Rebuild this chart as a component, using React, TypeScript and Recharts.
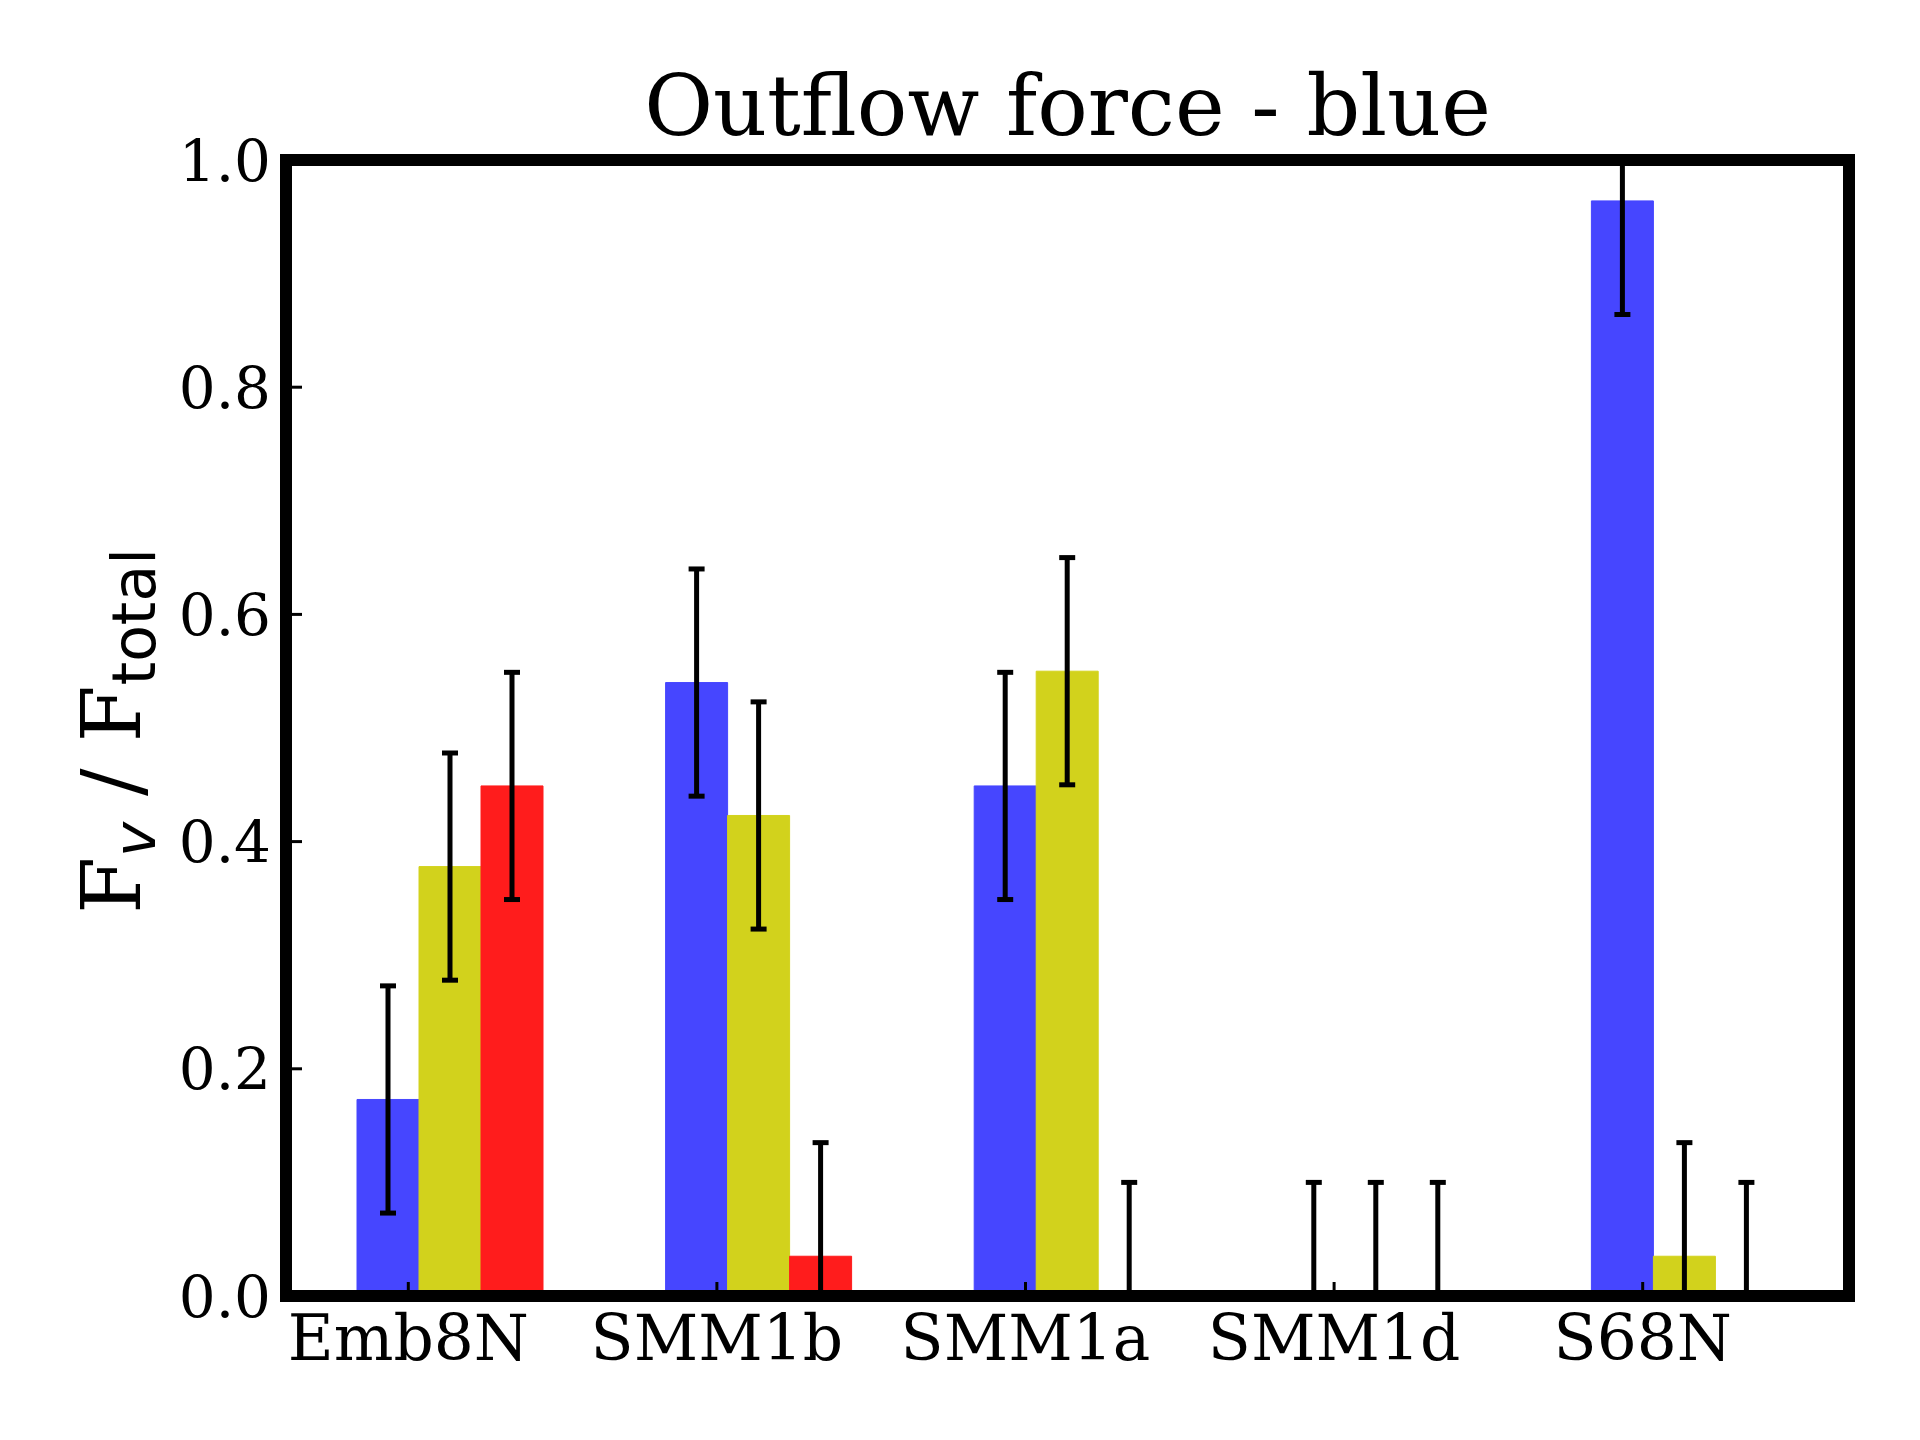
import React from 'react';
import { BarChart, Bar, XAxis, YAxis, ErrorBar } from 'recharts';

const categories = ['Emb8N', 'SMM1b', 'SMM1a', 'SMM1d', 'S68N'];
const blueValues = [0.173, 0.54, 0.449, 0, 0.964];
const yellowValues = [0.378, 0.423, 0.55, 0, 0.035];
const redValues = [0.449, 0.035, 0, 0, 0];
const blueErrors = [0.1, 0.1, 0.1, 0.1, 0.1];
const yellowErrors = [0.1, 0.1, 0.1, 0.1, 0.1];
const redErrors = [0.1, 0.1, 0.1, 0.1, 0.1];
const yTicks = [0, 0.2, 0.4, 0.6, 0.8, 1.0];
const yTickLabels = ['0.0', '0.2', '0.4', '0.6', '0.8', '1.0'];
const titleText = 'Outflow force - blue';

const data = categories.map((name, i) => ({
  name,
  blue: blueValues[i],
  yellow: yellowValues[i],
  red: redValues[i],
  blueErr: blueErrors[i],
  yellowErr: yellowErrors[i],
  redErr: redErrors[i],
}));

const W = 1920;
const H = 1440;
const PLOT_L = 286;
const PLOT_R = 1849;
const PLOT_T = 160;
const PLOT_B = 1296;

const BLUE = '#4646ff';
const YELLOW = '#d2d21c';
const RED = '#ff1c1c';

const SERIF = 'DejaVu Serif';
const SANS = 'DejaVu Sans';
const spine = { stroke: '#000', strokeWidth: 12, strokeLinecap: 'square' as const };
const TICK_SHIFT = -42;

const XTick = (props: any) => {
  const { x, y, payload } = props;
  const tx = x + TICK_SHIFT;
  return (
    <g>
      <line x1={tx} x2={tx} y1={y} y2={y - 14} stroke="#000" strokeWidth={3} />
      <text x={tx} y={y + 64} textAnchor="middle" fontFamily={SERIF} fontSize={63} fill="#000">
        {payload.value}
      </text>
    </g>
  );
};

export default function App() {
  return (
    <div style={{ position: 'absolute', left: 0, top: 0, width: W, height: H, background: '#fff' }}>
      <style>{`.recharts-errorBars { clip-path: url(#plotAreaClip); }`}</style>
      <BarChart
        width={W}
        height={H}
        data={data}
        margin={{ top: PLOT_T - 1, right: W - PLOT_R - 1, bottom: H - PLOT_B - 1, left: PLOT_L - 1 }}
        barGap={0}
      >
        <defs>
          <clipPath id="plotAreaClip" clipPathUnits="userSpaceOnUse">
            <rect x={PLOT_L} y={PLOT_T} width={PLOT_R - PLOT_L} height={PLOT_B - PLOT_T} />
          </clipPath>
        </defs>
        <XAxis
          dataKey="name"
          height={1}
          padding={{ left: 10, right: 10 }}
          tickSize={0}
          tickMargin={0}
          tickLine={false}
          tick={<XTick />}
          axisLine={spine}
          interval={0}
        />
        <XAxis
          xAxisId="top"
          orientation="top"
          dataKey="name"
          height={1}
          padding={{ left: 10, right: 10 }}
          tick={false}
          tickLine={false}
          axisLine={spine}
        />
        <YAxis
          domain={[0, 1]}
          allowDataOverflow
          ticks={yTicks}
          interval={0}
          tickFormatter={(v: number) => yTickLabels[yTicks.indexOf(v)] ?? String(v)}
          width={1}
          tickSize={-16}
          tickMargin={31}
          tick={{ fontFamily: SERIF, fontSize: 58, fill: '#000' }}
          tickLine={{ stroke: '#000', strokeWidth: 3 }}
          axisLine={spine}
        />
        <YAxis
          yAxisId="right"
          orientation="right"
          domain={[0, 1]}
          width={1}
          tick={false}
          tickLine={false}
          axisLine={spine}
        />
        <Bar dataKey="blue" fill={BLUE} stroke={BLUE} strokeWidth={1} barSize={62} minPointSize={1} isAnimationActive={false}>
          <ErrorBar dataKey="blueErr" width={8} strokeWidth={5} stroke="#000" direction="y" isAnimationActive={false} />
        </Bar>
        <Bar dataKey="yellow" fill={YELLOW} stroke={YELLOW} strokeWidth={1} barSize={62} minPointSize={1} isAnimationActive={false}>
          <ErrorBar dataKey="yellowErr" width={8} strokeWidth={5} stroke="#000" direction="y" isAnimationActive={false} />
        </Bar>
        <Bar dataKey="red" fill={RED} stroke={RED} strokeWidth={1} barSize={62} minPointSize={1} isAnimationActive={false}>
          <ErrorBar dataKey="redErr" width={8} strokeWidth={5} stroke="#000" direction="y" isAnimationActive={false} />
        </Bar>
        <text x={(PLOT_L + PLOT_R) / 2} y={135} textAnchor="middle" fontFamily={SERIF} fontSize={84} fill="#000">
          {titleText}
        </text>
        <text transform={`translate(140,${(PLOT_T + PLOT_B) / 2 + 3}) rotate(-90)`} textAnchor="middle" fill="#000">
          <tspan fontFamily={SERIF} fontSize={82}>F</tspan>
          <tspan fontFamily={SANS} fontStyle="italic" fontSize={59} dy={15}>v</tspan>
          <tspan fontFamily={SERIF} fontSize={82} dy={-15}>{' / F'}</tspan>
          <tspan fontFamily={SANS} fontSize={60} dy={15}>total</tspan>
        </text>
      </BarChart>
    </div>
  );
}
